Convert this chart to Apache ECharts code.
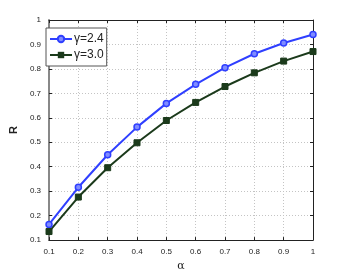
<!DOCTYPE html>
<html><head><meta charset="utf-8">
<script src="https://cdn.jsdelivr.net/npm/echarts@6/dist/echarts.min.js"></script>
<style>html,body{margin:0;padding:0;background:#fff}#c{width:346px;height:277px}</style>
</head><body><div id="c"></div>
<script>
const alphas = [0.1,0.2,0.3,0.4,0.5,0.6,0.7,0.8,0.9,1.0];
const g24 = [0.164,0.316,0.449,0.562,0.659,0.737,0.805,0.862,0.906,0.941];
const g30 = [0.135,0.276,0.396,0.498,0.589,0.663,0.728,0.784,0.832,0.871];
const seriesNames = ['γ=2.4','γ=3.0'];
const xTitle = 'α', yTitle = 'R';

const fmt = v => { const r = Math.round(v*10)/10; return r === 1 ? '1' : r.toFixed(1); };
const font = 'Liberation Sans Narrow, Liberation Sans, Arial';
const chart = echarts.init(document.getElementById('c'));
const axisCommon = {
  type:'value', min:0.1, max:1, interval:0.1,
  axisLine:{show:true,onZero:false,lineStyle:{color:'#222',width:1}},
  axisTick:{show:true,inside:true,length:3,lineStyle:{color:'#222'}},
  splitLine:{show:true,lineStyle:{color:'#c4c4c4',type:[1,2],width:1}},
  axisLabel:{fontSize:8,color:'#222',fontFamily:font,formatter:fmt}
};
chart.setOption({
  animation:false,
  grid:{left:45,right:33,top:20,bottom:31},
  legend:{left:46,top:28,orient:'vertical',itemWidth:22,itemHeight:8,itemGap:4,
    backgroundColor:'#fff',borderColor:'#555',borderWidth:1,padding:[5,3,5,3],
    textStyle:{fontSize:12,color:'#222',fontFamily:font,padding:[0,0,0,-3]},data:seriesNames},
  xAxis:[Object.assign({},axisCommon,{position:'bottom',name:xTitle,nameLocation:'middle',nameGap:16,
      nameTextStyle:{fontSize:11,color:'#222',fontFamily:'DejaVu Serif'}}),
    Object.assign({},axisCommon,{position:'top',axisLabel:{show:false},splitLine:{show:false}})],
  yAxis:[Object.assign({},axisCommon,{position:'left',name:yTitle,nameLocation:'middle',nameGap:26,
      nameTextStyle:{fontSize:11,fontWeight:'bold',color:'#222',fontFamily:'Liberation Sans'},
      axisLine:{show:true,onZero:false,lineStyle:{color:'#888',width:2}}}),
    Object.assign({},axisCommon,{position:'right',axisLabel:{show:false},splitLine:{show:false}})],
  series:[
    {name:seriesNames[0],type:'line',data:alphas.map((a,i)=>[a,g24[i]]),symbol:'circle',symbolSize:6,
      lineStyle:{color:'#2f3fff',width:2},itemStyle:{color:'#7f8cff',borderColor:'#2f3fff',borderWidth:1.5},color:'#2f3fff'},
    {name:seriesNames[1],type:'line',data:alphas.map((a,i)=>[a,g30[i]]),symbol:'rect',symbolSize:6,
      lineStyle:{color:'#1b3a1b',width:2},itemStyle:{color:'#1b3a1b',borderColor:'#1b3a1b'},color:'#1b3a1b'}
  ]
});
</script></body></html>
